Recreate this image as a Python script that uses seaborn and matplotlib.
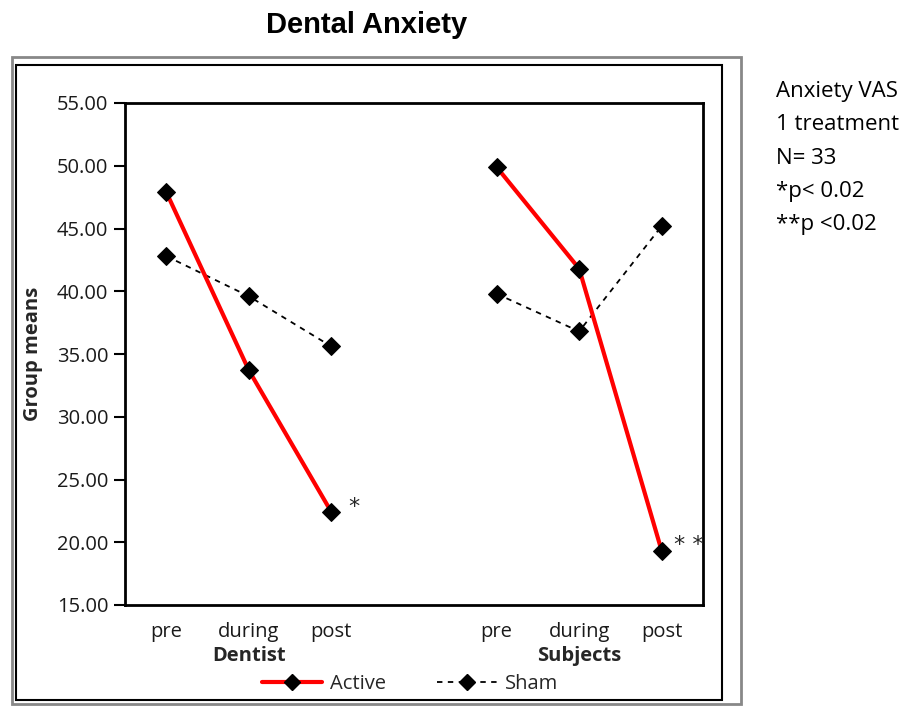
import numpy as np
import pandas as pd
import matplotlib
matplotlib.use("Agg")
import matplotlib.pyplot as plt
from matplotlib.lines import Line2D
from matplotlib.patches import Rectangle
import matplotlib.transforms as mtransforms
import seaborn as sns

# data
phases = ["pre", "during", "post"]
raters = ["Dentist", "Subjects"]
active_dentist = [47.9, 33.7, 22.4]
sham_dentist = [42.8, 39.6, 35.6]
active_subjects = [49.9, 41.8, 19.3]
sham_subjects = [39.8, 36.8, 45.2]
y_ticks = [15, 20, 25, 30, 35, 40, 45, 50, 55]
notes = ["Anxiety VAS", "1 treatment", "N= 33", "*p< 0.02", "**p <0.02"]

# category slots: 3 for Dentist, an empty slot, 3 for Subjects
slots = {"Dentist": [0, 1, 2], "Subjects": [4, 5, 6]}
rows = []
for rater, act, sham in [("Dentist", active_dentist, sham_dentist),
                         ("Subjects", active_subjects, sham_subjects)]:
    for i, ph in enumerate(phases):
        rows.append({"rater": rater, "phase": ph, "pos": slots[rater][i], "cond": "Active", "value": act[i]})
        rows.append({"rater": rater, "phase": ph, "pos": slots[rater][i], "cond": "Sham", "value": sham[i]})
df = pd.DataFrame(rows)

sns.set_style("white")
plt.rcParams["font.family"] = ["Open Sans", "DejaVu Sans"]

fig = plt.figure(figsize=(9.1, 7.06), dpi=100)
ax = fig.add_axes([125/910, 1-605/706, (703-125)/910, (605-103)/706])

sns.lineplot(data=df[df.cond == "Sham"], x="pos", y="value", units="rater", estimator=None,
             color="black", linestyle=(0, (3, 3)), linewidth=1.3, marker="D", markersize=9,
             markerfacecolor="black", markeredgecolor="black", ax=ax, zorder=3)
sns.lineplot(data=df[df.cond == "Active"], x="pos", y="value", units="rater", estimator=None,
             color="#ff0000", linewidth=3, marker="D", markersize=9,
             markerfacecolor="black", markeredgecolor="black", ax=ax, zorder=4)

ax.set_xlim(-0.5, 6.5)
ax.set_ylim(15, 55)
ax.set_yticks(y_ticks)
ax.set_yticklabels([f"{v:.2f}" for v in y_ticks], fontsize=14.5, color="#1a1a1a")
ax.set_xticks(np.arange(-0.5, 7, 1))
ax.set_xticklabels([])
centers = slots["Dentist"] + slots["Subjects"]
ax.set_xticks(centers, minor=True)
ax.set_xticklabels(phases + phases, minor=True, fontsize=14.5, color="#1a1a1a")
ax.tick_params(axis="x", which="major", direction="out", length=10, width=1.5, color="black")
ax.tick_params(axis="x", which="minor", length=0, pad=12)
ax.tick_params(axis="y", direction="out", length=8, width=1.5, color="black", pad=4, left=True)
ax.set_xlabel("")
ax.set_ylabel("Group means", fontsize=14.5, fontweight="bold", labelpad=10)
ax.get_legend() and ax.get_legend().remove()
for s in ax.spines.values():
    s.set_visible(True)
    s.set_linewidth(2)
    s.set_color("black")

trans = mtransforms.blended_transform_factory(ax.transData, fig.transFigure)
ax.text(np.mean(slots["Dentist"]), 1-656/706, raters[0], transform=trans, ha="center", va="center",
        fontsize=14.5, fontweight="bold")
ax.text(np.mean(slots["Subjects"]), 1-656/706, raters[1], transform=trans, ha="center", va="center",
        fontsize=14.5, fontweight="bold")

ax.annotate("*", (2, active_dentist[2]), xytext=(12, 4), textcoords="offset points",
            fontsize=16, ha="left", va="center", family="DejaVu Sans")
ax.annotate("* *", (6, active_subjects[2]), xytext=(9, 4), textcoords="offset points",
            fontsize=16, ha="left", va="center", family="DejaVu Sans")

handles = [Line2D([], [], color="#ff0000", linewidth=3, marker="D", markersize=8,
                  markerfacecolor="black", markeredgecolor="black"),
           Line2D([], [], color="black", linewidth=1.3, linestyle=(0, (3, 3)), marker="D", markersize=8,
                  markerfacecolor="black", markeredgecolor="black")]
fig.legend(handles, ["Active", "Sham"], loc="center", bbox_to_anchor=(410/910, 1-684/706), ncol=2,
           frameon=False, fontsize=14.5, handlelength=3, columnspacing=2.5, handletextpad=0.4)

# frames around the chart
fig.patches.append(Rectangle((12/910, 1-704/706), (741-12)/910, (704-57)/706, transform=fig.transFigure,
                             fill=False, edgecolor="#888888", linewidth=2))
fig.patches.append(Rectangle((16/910, 1-700/706), (722-16)/910, (700-65)/706, transform=fig.transFigure,
                             fill=False, edgecolor="black", linewidth=1.5))

fig.text(367/910, 1-25/706, "Dental Anxiety", ha="center", va="center", fontsize=21,
         fontweight="bold", family="Liberation Sans", color="black")

for i, line in enumerate(notes):
    fig.text(776/910, 1-(92+33*i)/706, line, ha="left", va="center", fontsize=16, color="black")

fig.savefig("out.png", dpi=100)
